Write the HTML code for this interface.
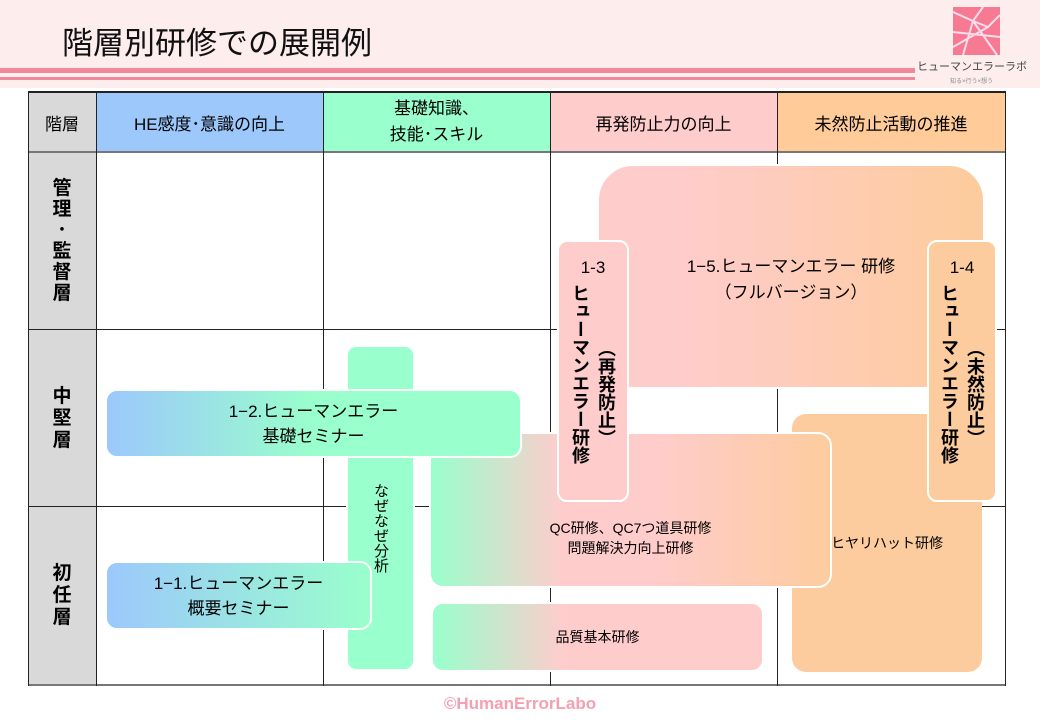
<!DOCTYPE html>
<html><head><meta charset="utf-8"><style>
*{margin:0;padding:0;box-sizing:border-box}
body{width:1040px;height:720px;background:#fff;position:relative;overflow:hidden;font-family:"Liberation Sans","Noto Sans CJK JP",sans-serif;color:#000}
.a{position:absolute}
.c{display:flex;align-items:center;justify-content:center;text-align:center}
.vl{position:absolute;width:1px;background:#222}
.hl{position:absolute;height:2px;background:#777}
.box{position:absolute;border:2px solid #fff;display:flex;align-items:center;justify-content:center;text-align:center}
.vt{writing-mode:vertical-rl;text-orientation:upright}
</style></head><body>
<div class="a" style="left:0;top:0;width:1040px;height:88px;background:#fdeeed"></div>
<div class="a" style="left:62px;top:18px;font-size:31px;color:#111">階層別研修での展開例</div>
<div class="a" style="left:0;top:68px;width:915px;height:5px;background:#f08a9a"></div>
<div class="a" style="left:0;top:77px;width:915px;height:3px;background:#f08a9a"></div>
<svg class="a" style="left:953px;top:7px" width="47" height="48" viewBox="0 0 47 48"><rect width="47" height="48" fill="#f57a92"/><g stroke="#fde" stroke-width="2" fill="none"><path d="M0 5 L20 14 L30 0 M20 14 L35 20 L47 8 M20 14 L10 48 M20 14 L44 48 M35 20 L0 40 M0 25 L47 30"/></g></svg>
<div class="a" style="left:917px;top:58px;font-size:11px;color:#444">ヒューマンエラーラボ</div>
<div class="a" style="left:950px;top:76px;font-size:6px;color:#888">知る×行う×想う</div>

<!-- header -->
<div class="a c" style="left:28px;top:92px;width:68px;height:60px;background:#d9d9d9;font-size:17px">階層</div>
<div class="a c" style="left:96px;top:92px;width:227px;height:60px;background:#9cc8fc;font-size:17px">HE感度･意識の向上</div>
<div class="a c" style="left:323px;top:92px;width:227px;height:60px;background:#99ffcc;font-size:17px;line-height:26px">基礎知識、<br>技能･スキル</div>
<div class="a c" style="left:550px;top:92px;width:227px;height:60px;background:#ffcccc;font-size:17px">再発防止力の向上</div>
<div class="a c" style="left:777px;top:92px;width:228px;height:60px;background:#ffcc99;font-size:17px">未然防止活動の推進</div>
<div class="a" style="left:28px;top:152px;width:68px;height:533px;background:#d9d9d9"></div>
<div class="a c" style="left:28px;top:152px;width:68px;height:178px;font-size:19px;font-weight:bold;line-height:21px">管<br>理<br>･<br>監<br>督<br>層</div>
<div class="a c" style="left:28px;top:330px;width:68px;height:177px;font-size:19px;font-weight:bold;line-height:22px">中<br>堅<br>層</div>
<div class="a c" style="left:28px;top:507px;width:68px;height:178px;font-size:19px;font-weight:bold;line-height:22px">初<br>任<br>層</div>
<!-- grid lines -->
<div class="a" style="left:28px;top:91px;width:977px;height:2px;background:#222"></div>
<div class="hl" style="left:28px;top:151px;width:977px"></div>
<div class="hl" style="left:28px;top:329px;width:977px;height:1px;background:#222"></div>
<div class="hl" style="left:28px;top:506px;width:977px;height:1px;background:#222"></div>
<div class="hl" style="left:28px;top:684px;width:977px"></div>
<div class="vl" style="left:28px;top:91px;height:595px"></div>
<div class="vl" style="left:96px;top:91px;height:595px"></div>
<div class="vl" style="left:323px;top:91px;height:595px"></div>
<div class="vl" style="left:550px;top:91px;height:595px"></div>
<div class="vl" style="left:777px;top:91px;height:595px"></div>
<div class="vl" style="left:1005px;top:91px;height:595px"></div>

<!-- boxes -->
<div class="box" style="left:346px;top:345px;width:69px;height:326px;border-radius:10px;background:#99ffcc;padding-top:40px"><span class="vt" style="font-size:15px">なぜなぜ分析</span></div>
<div class="box" style="left:597px;top:164px;width:388px;height:225px;border-radius:36px 36px 0 0;background:linear-gradient(90deg,#ffcccc 20%,#fdcc9e 95%);align-items:flex-start;padding-top:88px;font-size:17px;line-height:26px">1−5.ヒューマンエラー 研修<br>（フルバージョン）</div>
<div class="box" style="left:792px;top:414px;width:190px;height:258px;border-radius:14px;border-color:transparent;background:#fdcc9e;font-size:14px;padding-top:0">ヒヤリハット研修</div>
<div class="box" style="left:429px;top:432px;width:403px;height:156px;border-radius:14px;background:linear-gradient(90deg,#99ffcc 0%,#ffcccc 33%,#ffcccc 55%,#fdcc9e 100%);font-size:14px;line-height:20px;padding-top:56px">QC研修、QC7つ道具研修<br>問題解決力向上研修</div>
<div class="box" style="left:431px;top:602px;width:333px;height:70px;border-radius:12px;background:linear-gradient(90deg,#99ffcc 0%,#ffcccc 40%,#ffcccc 100%);font-size:14px">品質基本研修</div>
<div class="box" style="left:105px;top:389px;width:417px;height:69px;border-radius:12px;background:linear-gradient(90deg,#9cc8fc 0%,#99ffcc 50%);font-size:17px;line-height:25px">1−2.ヒューマンエラー<br>基礎セミナー</div>
<div class="box" style="left:105px;top:561px;width:267px;height:69px;border-radius:12px;background:linear-gradient(90deg,#9cc8fc 0%,#99ffcc 100%);font-size:17px;line-height:25px">1−1.ヒューマンエラー<br>概要セミナー</div>
<div class="box" style="left:557px;top:240px;width:72px;height:262px;border-radius:10px;background:#ffcccc;flex-direction:column;justify-content:flex-start;padding-top:16px">
<div style="font-size:17px">1-3</div>
<div style="display:flex;flex-direction:row;gap:6px;margin-top:6px;font-weight:bold;font-size:18px;line-height:20px"><span class="vt">ヒューマンエラー研修</span><span class="vt" style="margin-top:38px">（再発防止）</span></div></div>
<div class="box" style="left:927px;top:240px;width:70px;height:262px;border-radius:10px;background:#fdcc9e;flex-direction:column;justify-content:flex-start;padding-top:16px">
<div style="font-size:17px">1-4</div>
<div style="display:flex;flex-direction:row;gap:6px;margin-top:6px;font-weight:bold;font-size:18px;line-height:20px"><span class="vt">ヒューマンエラー研修</span><span class="vt" style="margin-top:38px">（未然防止）</span></div></div>

<div class="a" style="left:0;top:694px;width:1040px;text-align:center;font-size:17px;font-weight:bold;color:#f5a0b0">©HumanErrorLabo</div>
</body></html>
